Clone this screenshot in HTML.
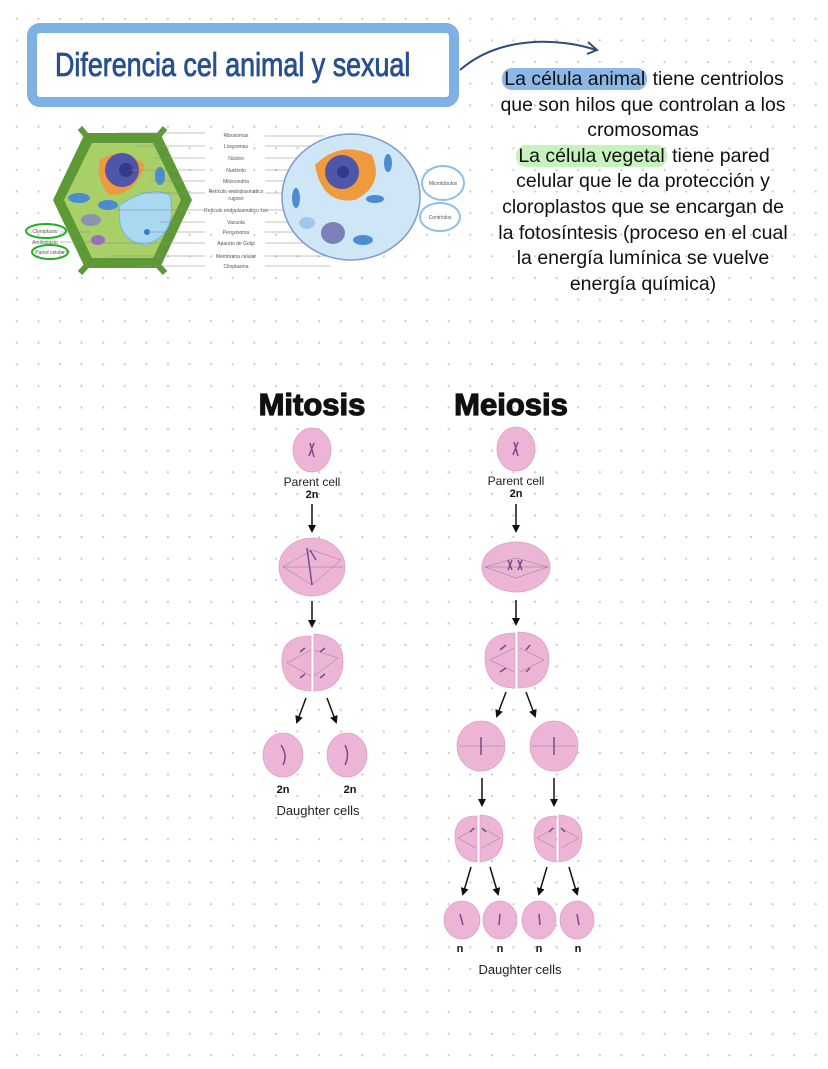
<!DOCTYPE html>
<html><head><meta charset="utf-8"><style>
html,body{margin:0;padding:0}
body{width:828px;height:1069px;background-color:#fff;background-image:radial-gradient(circle,#c9c9c9 0.9px,transparent 1.3px);background-size:21.6px 21.6px;background-position:6px 8px;position:relative;overflow:hidden;font-family:"Liberation Sans",sans-serif}
.txt{position:absolute;left:463px;top:67px;width:360px;text-align:center;font-size:19.5px;line-height:25.6px;color:#111;white-space:nowrap}
.hb{background:#8cb7e6;border-radius:10px;padding:0 2px}
.hg{background:#c8f2bd;border-radius:10px;padding:0 2px}
svg{position:absolute;left:0;top:0}
</style></head><body>
<svg width="828" height="1069" viewBox="0 0 828 1069" font-family="Liberation Sans, sans-serif">
<defs>
<marker id="ah" markerWidth="8" markerHeight="8" refX="6" refY="4" orient="auto" markerUnits="userSpaceOnUse"><path d="M0,0 L8,4 L0,8 Z" fill="#111"/></marker>
</defs>
<!-- title -->
<rect x="32" y="28" width="422" height="74" rx="8" fill="#fff" stroke="#7fb0e3" stroke-width="10"/>
<text x="0" y="0" font-size="32" fill="#28508f" stroke="#28508f" stroke-width="0.8" transform="translate(55 76) scale(0.84 1.05)">Diferencia cel animal y sexual</text>
<path d="M460,70 C500,35 560,38 596,50" fill="none" stroke="#2d4d7c" stroke-width="2"/>
<path d="M588,42 L597,50 L587,54" fill="none" stroke="#2d4d7c" stroke-width="2"/>
<!-- plant cell -->
<polygon points="85,133 160,133 192,200 160,268 85,268 53,200" fill="#5d9a35"/>
<polygon points="92,143 153,143 181,200 153,258 92,258 64,200" fill="#a8cf68"/>
<line x1="80" y1="128" x2="90" y2="140" stroke="#5d9a35" stroke-width="6"/>
<line x1="165" y1="128" x2="155" y2="140" stroke="#5d9a35" stroke-width="6"/>
<line x1="80" y1="273" x2="90" y2="262" stroke="#5d9a35" stroke-width="6"/>
<line x1="165" y1="273" x2="155" y2="262" stroke="#5d9a35" stroke-width="6"/>
<path d="M100,160 Q120,145 145,165 Q135,195 110,195 Q95,180 100,160Z" fill="#ef9a3c"/>
<circle cx="122" cy="170" r="17" fill="#4f55a8"/><circle cx="126" cy="170" r="7" fill="#343a88"/>
<path d="M120,205 Q150,185 170,195 Q178,235 145,245 Q115,240 120,205Z" fill="#a9d8f0" stroke="#74b6e0"/>
<circle cx="147" cy="232" r="3" fill="#2f7fc5"/>
<ellipse cx="79" cy="198" rx="11" ry="5" fill="#4a8ccf"/><ellipse cx="108" cy="205" rx="10" ry="5" fill="#4a8ccf"/>
<ellipse cx="160" cy="176" rx="5" ry="9" fill="#4a8ccf"/>
<ellipse cx="91" cy="220" rx="10" ry="6" fill="#8a93b0"/><ellipse cx="98" cy="240" rx="7" ry="5" fill="#9a6ec0"/>
<g stroke="#888" stroke-width="0.6" fill="none"><path d="M118,133 H205 M135,146 H205 M155,158 H205 M130,170 H205 M150,181 H205 M140,193 H205 M115,210 H205 M160,222 H205 M147,232 H205 M100,243 H205 M110,256 H205 M140,266 H205"/><path d="M60,232 H90 M60,242 H95 M60,252 H70"/>
<path d="M265,136 H325 M265,146 H330 M265,158 H320 M265,170 H325 M265,181 H310 M265,193 H320 M265,210 H330 M265,222 H325 M265,232 H330 M265,243 H330 M265,256 H330 M265,266 H330"/></g>
<g font-size="5" fill="#555" text-anchor="middle"><text x="236" y="137">Ribosomas</text><text x="236" y="148">Lisosomas</text><text x="236" y="160">Núcleo</text><text x="236" y="172">Nucléolo</text><text x="236" y="183">Mitocondria</text><text x="236" y="193">Retículo endoplasmático</text><text x="236" y="200">rugoso</text><text x="236" y="212">Retículo endoplasmático liso</text><text x="236" y="224">Vacuola</text><text x="236" y="234">Peroxisoma</text><text x="236" y="245">Aparato de Golgi</text><text x="236" y="258">Membrana celular</text><text x="236" y="268">Citoplasma</text>
<text x="45" y="233">Cloroplasto</text><text x="45" y="244">Amiloplasto</text><text x="50" y="254">Pared celular</text></g>
<ellipse cx="46" cy="231" rx="20" ry="7" fill="none" stroke="#22b022" stroke-width="2"/>
<ellipse cx="50" cy="252" rx="18" ry="7" fill="none" stroke="#22b022" stroke-width="2"/>
<!-- animal cell -->
<ellipse cx="351" cy="197" rx="69" ry="63" fill="#cfe6f7" stroke="#7c9bcc" stroke-width="1.5"/>
<path d="M315,165 Q340,140 372,155 Q385,185 355,200 Q322,205 315,165Z" fill="#ef9a3c"/>
<circle cx="342" cy="172" r="17" fill="#4f55a8"/><circle cx="343" cy="172" r="6" fill="#343a88"/>
<ellipse cx="333" cy="233" rx="12" ry="11" fill="#7d7fb8"/>
<ellipse cx="296" cy="198" rx="4" ry="10" fill="#4a8ccf"/><ellipse cx="388" cy="163" rx="4" ry="9" fill="#4a8ccf"/>
<ellipse cx="375" cy="199" rx="9" ry="4" fill="#4a8ccf"/><ellipse cx="363" cy="240" rx="10" ry="5" fill="#4a8ccf"/>
<ellipse cx="307" cy="223" rx="8" ry="6" fill="#9cc9ec"/>
<ellipse cx="443" cy="183" rx="21" ry="17" fill="#fff" stroke="#8cc0ea" stroke-width="2"/>
<ellipse cx="440" cy="217" rx="20" ry="14" fill="#fff" stroke="#8cc0ea" stroke-width="2"/>
<g font-size="5" fill="#555" text-anchor="middle"><text x="443" y="185">Microtúbulos</text><text x="440" y="219">Centríolos</text></g>
<!-- headings -->
<text x="312" y="415" text-anchor="middle" font-size="31" font-weight="bold" fill="#111" stroke="#111" stroke-width="1.2">Mitosis</text>
<text x="511" y="415" text-anchor="middle" font-size="31" font-weight="bold" fill="#111" stroke="#111" stroke-width="1.2">Meiosis</text>
<g fill="#ecb5d6" stroke="#dfa0c5" stroke-width="0.8">
<ellipse cx="312" cy="450" rx="19" ry="22"/>
<ellipse cx="312" cy="567" rx="33" ry="29"/>
<path d="M311,636 Q280,636 282,663 Q284,690 311,691 Z"/><path d="M314,634 Q344,636 343,662 Q342,690 314,691 Z"/>
<ellipse cx="283" cy="755" rx="20" ry="22"/><ellipse cx="347" cy="755" rx="20" ry="22"/>
<ellipse cx="516" cy="449" rx="19" ry="22"/>
<ellipse cx="516" cy="567" rx="34" ry="25"/>
<path d="M515,633 Q484,633 485,659 Q486,688 515,688 Z"/><path d="M518,632 Q548,633 549,659 Q548,688 518,688 Z"/>
<ellipse cx="481" cy="746" rx="24" ry="25"/><ellipse cx="554" cy="746" rx="24" ry="25"/>
<path d="M477,816 Q454,816 455,838 Q456,860 477,862 Z"/><path d="M480,815 Q503,816 503,838 Q502,860 480,862 Z"/>
<path d="M556,816 Q533,816 534,838 Q535,860 556,862 Z"/><path d="M559,815 Q582,816 582,838 Q581,860 559,862 Z"/>
<ellipse cx="462" cy="920" rx="18" ry="19"/><ellipse cx="500" cy="920" rx="17" ry="19"/><ellipse cx="539" cy="920" rx="17" ry="19"/><ellipse cx="577" cy="920" rx="17" ry="19"/>
</g>
<g stroke="#555" stroke-width="0.5" opacity="0.6">
<path d="M283,567 L343,567 M283,567 L312,550 M283,567 L312,585 M341,560 L312,550 M341,560 L312,585"/>
<path d="M485,567 L548,567 M485,567 L516,558 M485,567 L516,578 M548,567 L516,558 M548,567 L516,578"/>
<path d="M287,663 L311,650 M287,663 L311,676 M338,658 L314,650 M338,658 L314,676"/>
<path d="M490,660 L514,648 M490,660 L514,672 M544,660 L520,648 M544,660 L520,672"/>
<path d="M459,746 L503,746 M532,746 L576,746"/>
<path d="M458,838 L476,828 M458,838 L476,848 M500,838 L482,828 M500,838 L482,848"/>
<path d="M537,838 L555,828 M537,838 L555,848 M579,838 L561,828 M579,838 L561,848"/>
</g>
<g stroke="#7a4a8a" stroke-width="1.5" fill="none">
<path d="M310,443 L314,457 M314,443 L309,456"/><path d="M514,442 L518,456 M518,442 L513,455"/>
<path d="M307,548 L312,585 M310,550 L316,560"/><path d="M508,560 L512,570 M512,560 L508,570 M518,560 L522,570 M522,560 L518,570"/>
<path d="M300,652 L305,648 M320,652 L325,648 M300,678 L305,674 M320,678 L325,674"/>
<path d="M500,650 L506,645 M526,650 L530,645 M500,672 L506,668 M526,672 L530,668"/>
<path d="M281,745 Q288,755 283,765 M345,745 Q350,755 345,765"/>
<path d="M481,737 L481,755 M554,737 L554,755"/>
<path d="M470,832 L474,828 M486,832 L482,828 M549,832 L553,828 M565,832 L561,828"/>
<path d="M460,914 L463,925 M500,914 L499,925 M539,914 L540,925 M577,914 L579,925"/>
</g>
<g stroke="#111" stroke-width="1.5" marker-end="url(#ah)">
<line x1="312" y1="504" x2="312" y2="531"/><line x1="312" y1="601" x2="312" y2="626"/>
<line x1="306" y1="698" x2="297" y2="722"/><line x1="327" y1="698" x2="336" y2="722"/>
<line x1="516" y1="504" x2="516" y2="531"/><line x1="516" y1="600" x2="516" y2="624"/>
<line x1="506" y1="692" x2="497" y2="716"/><line x1="526" y1="692" x2="535" y2="716"/>
<line x1="482" y1="778" x2="482" y2="805"/><line x1="554" y1="778" x2="554" y2="805"/>
<line x1="471" y1="867" x2="463" y2="894"/><line x1="490" y1="867" x2="498" y2="894"/>
<line x1="547" y1="867" x2="539" y2="894"/><line x1="569" y1="867" x2="577" y2="894"/>
</g>
<g font-size="12" fill="#222" text-anchor="middle">
<text x="312" y="486">Parent cell</text><text x="516" y="485">Parent cell</text>
<text x="318" y="815" font-size="13">Daughter cells</text><text x="520" y="974" font-size="13">Daughter cells</text>
</g>
<g font-size="11" font-weight="bold" fill="#111" text-anchor="middle">
<text x="312" y="498">2n</text><text x="516" y="497">2n</text>
<text x="283" y="793">2n</text><text x="350" y="793">2n</text>
<text x="460" y="952">n</text><text x="500" y="952">n</text><text x="539" y="952">n</text><text x="578" y="952">n</text>
</g>
</svg>
<div class="txt"><span class="hb">La célula animal</span> tiene centriolos<br>que son hilos que controlan a los<br>cromosomas<br><span class="hg">La célula vegetal</span> tiene pared<br>celular que le da protección y<br>cloroplastos que se encargan de<br>la fotosíntesis (proceso en el cual<br>la energía lumínica se vuelve<br>energía química)</div>
</body></html>
